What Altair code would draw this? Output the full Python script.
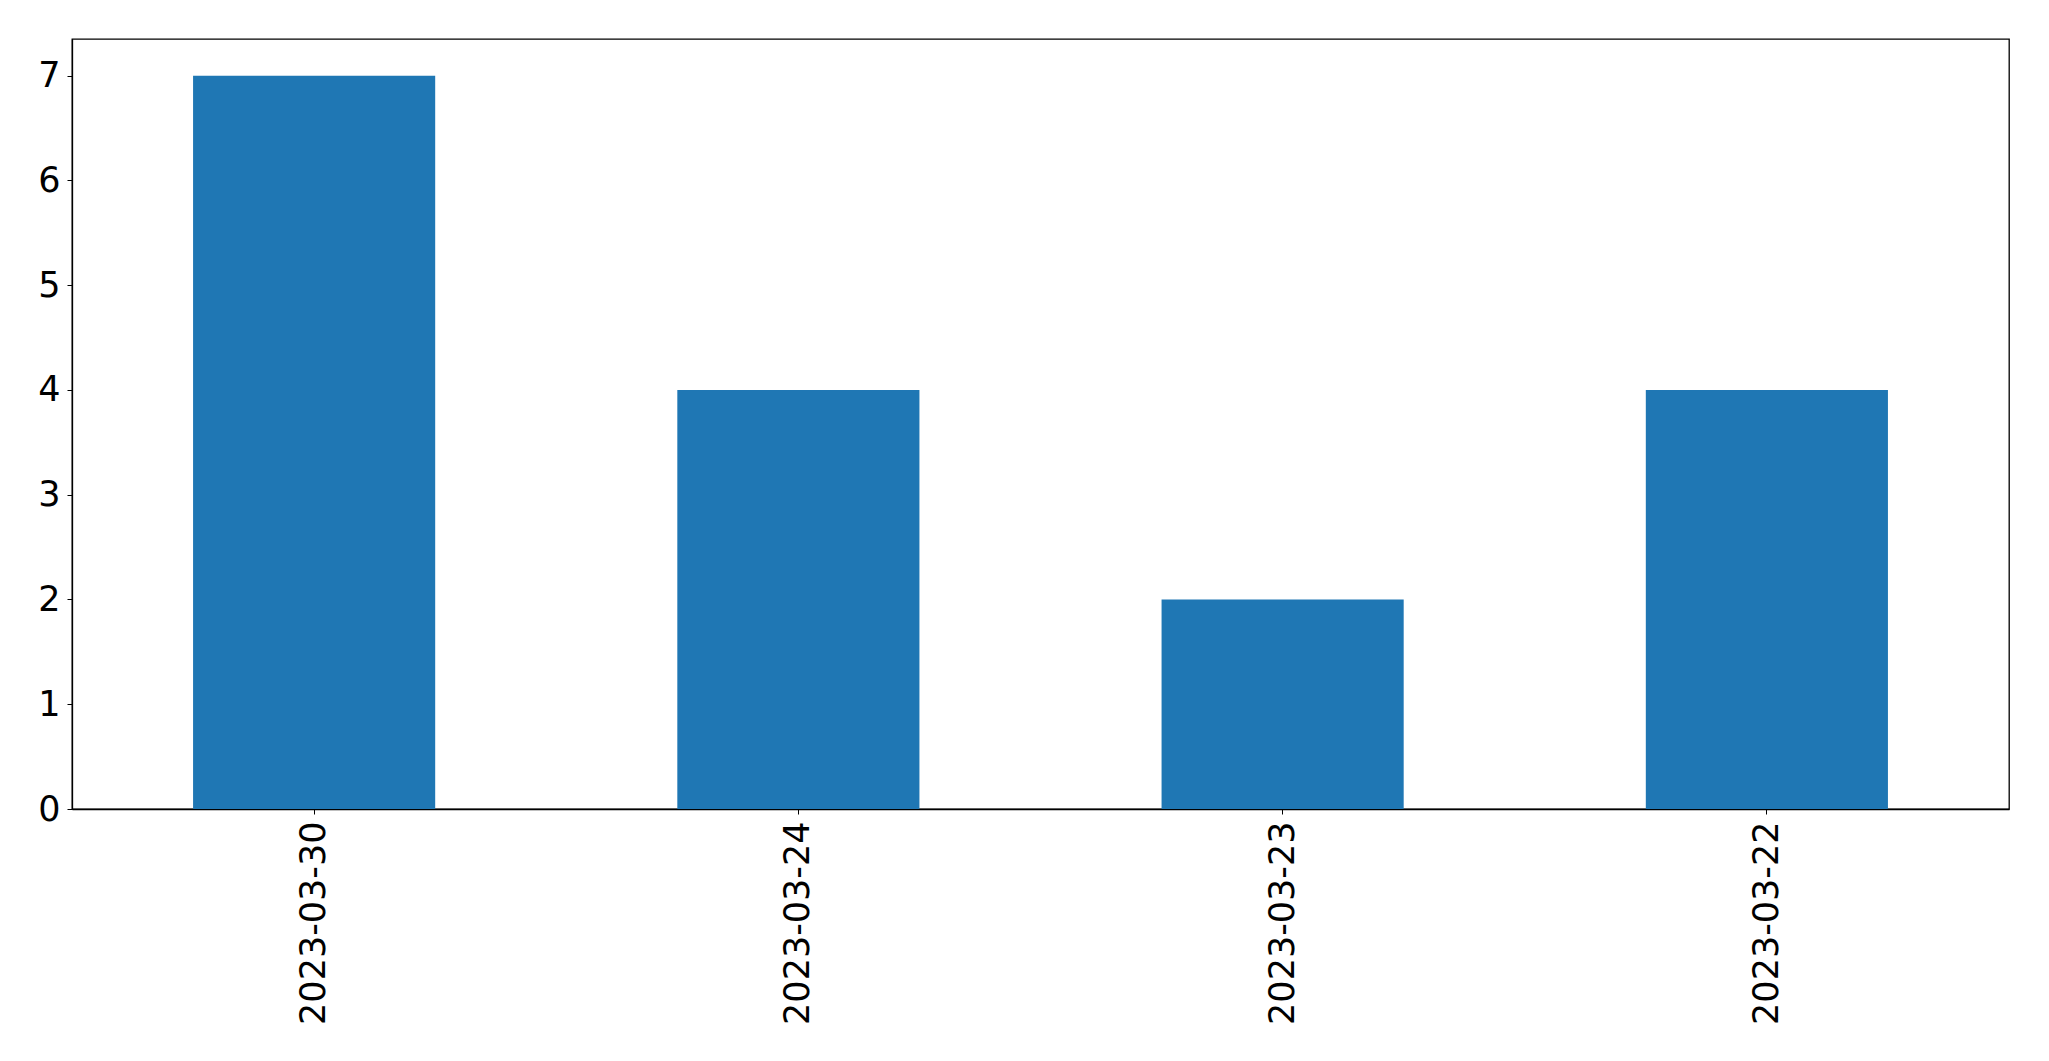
import altair as alt
import pandas as pd

dates = ["2023-03-30", "2023-03-24", "2023-03-23", "2023-03-22"]
counts = [7, 4, 2, 4]

df = pd.DataFrame({"date": dates, "count": counts})

chart = (
    alt.Chart(df)
    .mark_bar(color="#1f77b4")
    .encode(
        x=alt.X(
            "date:N",
            sort=None,
            scale=alt.Scale(paddingInner=0.5, paddingOuter=0.25),
            axis=alt.Axis(
                title=None,
                labelAngle=270,
                labelFont="DejaVu Sans",
                labelFontSize=35,
                labelColor="black",
                labelPadding=7,
                labelLimit=0,
                tickColor="black",
                tickSize=5,
                domainColor="black",
                domainWidth=1.3,
                grid=False,
            ),
        ),
        y=alt.Y(
            "count:Q",
            scale=alt.Scale(domain=[0, 7.35], nice=False, zero=True),
            axis=alt.Axis(
                title=None,
                values=[0, 1, 2, 3, 4, 5, 6, 7],
                format="d",
                labelFont="DejaVu Sans",
                labelFontSize=35,
                labelColor="black",
                labelPadding=7,
                tickColor="black",
                tickSize=5,
                domainColor="black",
                domainWidth=1.3,
                grid=False,
            ),
        ),
    )
    .properties(
        width=1937,
        height=770,
        autosize=alt.AutoSizeParams(type="none"),
        padding={"left": 64, "top": 31, "right": 20, "bottom": 220},
    )
    .configure_view(stroke="black", strokeWidth=1.3)
)

chart.save("out.html", embed_options={"renderer": "svg", "actions": False})
